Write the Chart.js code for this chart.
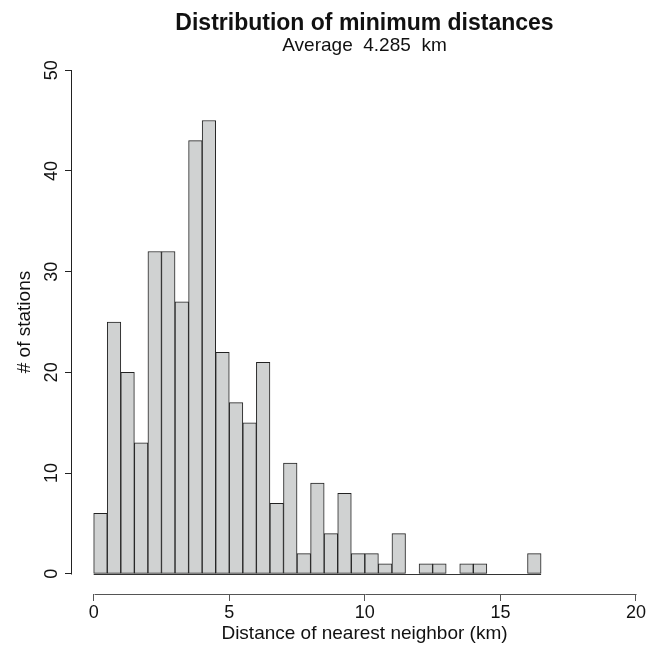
<!DOCTYPE html>
<html>
<head>
<meta charset="utf-8">
<title>Distribution of minimum distances</title>
<script src="https://cdn.jsdelivr.net/npm/chart.js@4.4.1/dist/chart.umd.min.js"></script>
<style>
  html, body { margin: 0; padding: 0; background: #fff; }
  #wrap { width: 657px; height: 646px; }
</style>
</head>
<body>
<div id="wrap"><canvas id="histChart" width="657" height="646"></canvas></div>
<script>
// Histogram bins (left edge, km) and counts of stations
const binStarts = [0, 0.5, 1, 1.5, 2, 2.5, 3, 3.5, 4, 4.5, 5, 5.5, 6, 6.5, 7, 7.5,
    8, 8.5, 9, 9.5, 10, 10.5, 11, 11.5, 12, 12.5, 13, 13.5, 14, 14.5, 15, 15.5, 16];
const counts = [6, 25, 20, 13, 32, 32, 27, 43, 45, 22, 17, 15, 21, 7, 11, 2,
    9, 4, 8, 2, 2, 1, 4, 0, 1, 1, 0, 1, 1, 0, 0, 0, 2];
const binWidth = 0.5;

const xTicks = [0, 5, 10, 15, 20];
const yTicks = [0, 10, 20, 30, 40, 50];

const titleText = 'Distribution of minimum distances';
const subtitleText = 'Average  4.285  km';
const xLabel = 'Distance of nearest neighbor (km)';
const yLabel = '# of stations';

const FONT = '"Liberation Sans", Arial, Helvetica, sans-serif';

// R style axes: the axis line only runs from first to last tick,
// plus the baseline under the (empty) bins
const rAxes = {
    id: 'rAxes',
    afterDraw(chart) {
        const { ctx, chartArea, scales } = chart;
        const x = scales.x, y = scales.y;
        ctx.save();
        ctx.lineWidth = 1;
        ctx.strokeStyle = '#222';
        // y axis
        const ax = Math.round(chartArea.left) - 0.5;
        ctx.beginPath();
        ctx.moveTo(ax, Math.round(y.getPixelForValue(yTicks[0])) + 0.5);
        ctx.lineTo(ax, Math.round(y.getPixelForValue(yTicks[yTicks.length - 1])) + 0.5);
        ctx.stroke();
        // x axis
        const ay = Math.round(chartArea.bottom) + 0.5;
        ctx.strokeStyle = '#555';
        ctx.beginPath();
        ctx.moveTo(Math.round(x.getPixelForValue(xTicks[0])) + 0.5, ay);
        ctx.lineTo(Math.round(x.getPixelForValue(xTicks[xTicks.length - 1])) + 0.5, ay);
        ctx.stroke();
        // baseline of the histogram (zero-count bins show as a flat line)
        const by = Math.round(y.getPixelForValue(0)) + 0.5;
        ctx.strokeStyle = '#333';
        ctx.beginPath();
        ctx.moveTo(x.getPixelForValue(binStarts[0]), by);
        ctx.lineTo(x.getPixelForValue(binStarts[binStarts.length - 1] + binWidth), by);
        ctx.stroke();
        ctx.restore();
    }
};

function renderHistogram() {
    const ctx = document.getElementById('histChart').getContext('2d');
    const data = binStarts.map((s, i) => ({ x: s + binWidth / 2, y: counts[i] }));

    new Chart(ctx, {
        type: 'bar',
        data: {
            datasets: [{
                label: yLabel,
                data: data,
                backgroundColor: '#d0d2d2',
                borderColor: '#222',
                borderWidth: 1,
                borderSkipped: false,
                barPercentage: 1,
                categoryPercentage: 1
            }]
        },
        plugins: [rAxes],
        options: {
            responsive: false,
            animation: false,
            events: [],
            layout: { padding: 0 },
            scales: {
                x: {
                    type: 'linear',
                    offset: false,
                    min: -0.8,
                    max: 20.775,
                    afterBuildTicks: (scale) => { scale.ticks = xTicks.map(v => ({ value: v })); },
                    afterFit: (scale) => { scale.height = 52; },
                    border: { display: false },
                    grid: { offset: false, drawOnChartArea: false, drawTicks: true, tickLength: 7, color: '#555' },
                    ticks: { color: '#111', padding: 1, maxRotation: 0, font: { family: FONT, size: 18 } },
                    title: {
                        display: true,
                        text: xLabel,
                        color: '#111',
                        padding: { top: 0, bottom: 0.6 },
                        font: { family: FONT, size: 19 }
                    }
                },
                y: {
                    min: -2,
                    max: 52,
                    afterBuildTicks: (scale) => { scale.ticks = yTicks.map(v => ({ value: v })); },
                    afterFit: (scale) => { scale.width = 72; },
                    border: { display: false },
                    grid: { drawOnChartArea: false, drawTicks: true, tickLength: 7, color: '#222' },
                    ticks: {
                        color: '#111',
                        padding: 3,
                        minRotation: 90,
                        maxRotation: 90,
                        crossAlign: 'center',
                        font: { family: FONT, size: 18 }
                    },
                    title: {
                        display: true,
                        text: yLabel,
                        color: '#111',
                        padding: { top: 13.6, bottom: 0 },
                        font: { family: FONT, size: 19 }
                    }
                }
            },
            plugins: {
                legend: { display: false },
                tooltip: { enabled: false },
                title: {
                    display: true,
                    text: titleText,
                    fullSize: false,
                    color: '#111',
                    padding: { top: 12.5, bottom: 0 },
                    font: { family: FONT, size: 23, weight: 'bold', lineHeight: 1 }
                },
                subtitle: {
                    display: true,
                    text: subtitleText,
                    fullSize: false,
                    color: '#111',
                    padding: { top: 1, bottom: -5.5 },
                    font: { family: FONT, size: 19, lineHeight: 1 }
                }
            }
        }
    });
}

renderHistogram();
</script>
</body>
</html>
